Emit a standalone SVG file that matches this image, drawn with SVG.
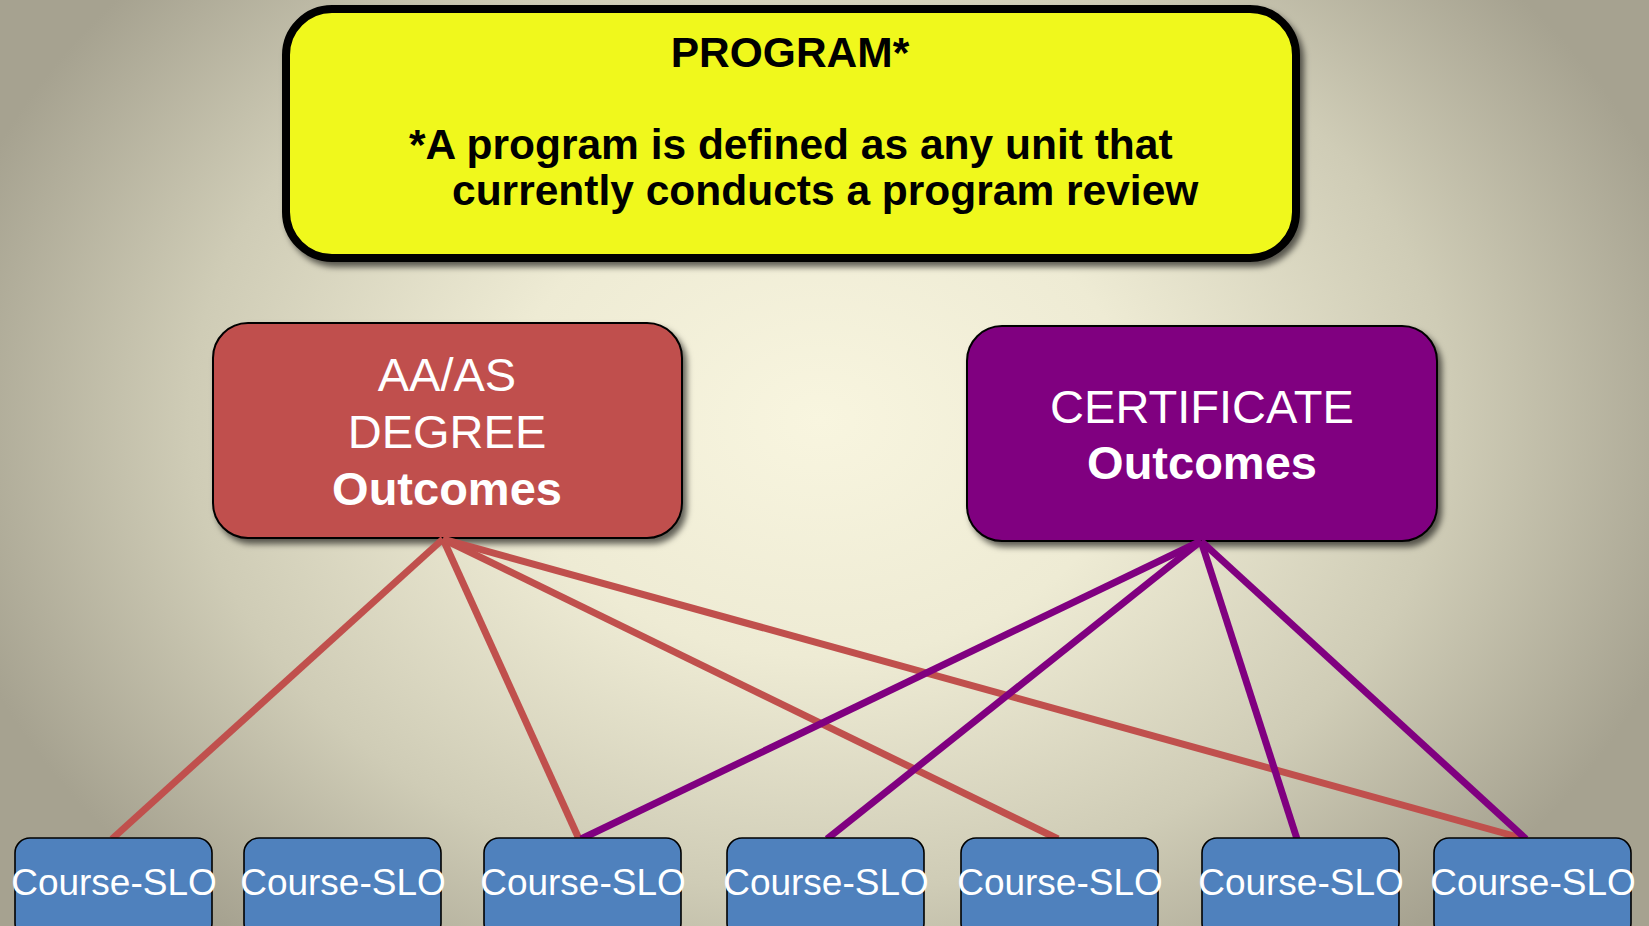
<svg xmlns="http://www.w3.org/2000/svg" width="1649" height="926" viewBox="0 0 1649 926">
<style>
.t{font-family:"Liberation Sans",Arial,sans-serif;}
.top{font-size:42.5px;font-weight:bold;fill:#000;}
.mid{font-size:47px;fill:#fff;text-anchor:middle;}
.b{font-weight:bold;}
.slo rect{fill:#4F81BD;stroke:#000;stroke-width:1.6;}
.slo text{font-family:"Liberation Sans",Arial,sans-serif;font-size:37px;fill:#fff;text-anchor:middle;}
.red{stroke:#C0504D;stroke-width:7;fill:none;}
.pur{stroke:#800080;stroke-width:7;fill:none;}
</style>
<defs>
<radialGradient id="bg" gradientUnits="userSpaceOnUse" cx="820" cy="420" r="900" gradientTransform="translate(0 105) scale(1 0.75)">
<stop offset="0" stop-color="#F8F5DF"/>
<stop offset="0.35" stop-color="#EEEBD4"/>
<stop offset="0.7" stop-color="#CFCCB6"/>
<stop offset="1" stop-color="#A6A290"/>
</radialGradient>
<filter id="sh" x="-10%" y="-10%" width="125%" height="130%">
<feDropShadow dx="4" dy="5" stdDeviation="3" flood-color="#000" flood-opacity="0.6"/>
</filter>
</defs>
<rect width="1649" height="926" fill="url(#bg)"/>
<g id="program">
<rect x="286" y="9" width="1010" height="249" rx="46" fill="#F0F81E" stroke="#000" stroke-width="8" filter="url(#sh)"/>
<text class="t top" x="790" y="67" text-anchor="middle">PROGRAM*</text>
<text class="t top" x="409" y="159">*A program is defined as any unit that</text>
<text class="t top" x="452" y="205">currently conducts a program review</text>
</g>
<g id="degree">
<rect x="213" y="323" width="469" height="215" rx="35" fill="#C0504D" stroke="#000" stroke-width="2" filter="url(#sh)"/>
<text class="t mid" x="447" y="391">AA/AS</text>
<text class="t mid" x="447" y="448">DEGREE</text>
<text class="t mid b" x="447" y="505">Outcomes</text>
</g>
<g id="certificate">
<rect x="967" y="326" width="470" height="215" rx="35" fill="#800080" stroke="#000" stroke-width="2" filter="url(#sh)"/>
<text class="t mid" x="1202" y="423">CERTIFICATE</text>
<text class="t mid b" x="1202" y="479">Outcomes</text>
</g>
<g id="connectors">
<line class="red" x1="443" y1="539" x2="112" y2="839"/>
<line class="red" x1="443" y1="539" x2="579" y2="839"/>
<line class="red" x1="443" y1="539" x2="1058" y2="839"/>
<line class="red" x1="443" y1="539" x2="1525" y2="839"/>
<line class="pur" x1="1201" y1="541" x2="581" y2="839"/>
<line class="pur" x1="1201" y1="541" x2="827" y2="839"/>
<line class="pur" x1="1201" y1="541" x2="1297" y2="839"/>
<line class="pur" x1="1201" y1="541" x2="1526" y2="839"/>
</g>
<g id="slo1" class="slo"><rect x="15" y="838" width="197" height="100" rx="15"/><text x="114" y="895">Course-SLO</text></g>
<g id="slo2" class="slo"><rect x="244" y="838" width="197" height="100" rx="15"/><text x="343" y="895">Course-SLO</text></g>
<g id="slo3" class="slo"><rect x="484" y="838" width="197" height="100" rx="15"/><text x="583" y="895">Course-SLO</text></g>
<g id="slo4" class="slo"><rect x="727" y="838" width="197" height="100" rx="15"/><text x="826" y="895">Course-SLO</text></g>
<g id="slo5" class="slo"><rect x="961" y="838" width="197" height="100" rx="15"/><text x="1060" y="895">Course-SLO</text></g>
<g id="slo6" class="slo"><rect x="1202" y="838" width="197" height="100" rx="15"/><text x="1301" y="895">Course-SLO</text></g>
<g id="slo7" class="slo"><rect x="1434" y="838" width="197" height="100" rx="15"/><text x="1533" y="895">Course-SLO</text></g>
</svg>
